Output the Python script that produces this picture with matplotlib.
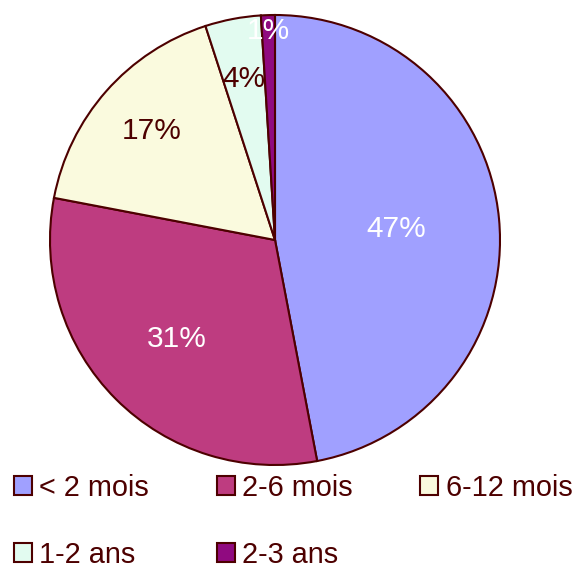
import matplotlib

matplotlib.use("Agg")
import matplotlib.pyplot as plt
import numpy as np

# Age distribution (share of cases)
CATEGORIES = ["< 2 mois", "2-6 mois", "6-12 mois", "1-2 ans", "2-3 ans"]
SHARES = [47, 31, 17, 4, 1]

COLORS = ["#A0A0FF", "#BE3C80", "#FAFADE", "#E2FBF0", "#900A80"]
LABEL_COLORS = ["white", "white", "#4D0000", "#4D0000", "white"]
LABEL_DIST = [0.54, 0.62, 0.73, 0.73, 0.93]
EDGE = "#4D0000"

plt.rcParams["font.family"] = ["Liberation Sans", "DejaVu Sans"]

fig = plt.figure(figsize=(5.76, 5.67), dpi=100)
ax = fig.add_axes([50 / 576, 1 - 465 / 567, 450 / 576, 450 / 567])

wedges, _ = ax.pie(
    SHARES, colors=COLORS, startangle=90, counterclock=False,
    wedgeprops=dict(edgecolor=EDGE, linewidth=1.5),
)
for w in wedges:
    w.set_clip_on(False)

for w, v, c, d in zip(wedges, SHARES, LABEL_COLORS, LABEL_DIST):
    mid = np.deg2rad((w.theta1 + w.theta2) / 2)
    ax.text(d * np.cos(mid), d * np.sin(mid), f"{v}%", color=c,
            ha="center", va="center", fontsize=21.5)

ax.set_xlim(-1, 1)
ax.set_ylim(-1, 1)
ax.set_aspect("equal")
ax.axis("off")

# legend is filled column by column; reorder so it reads row by row
order = [0, 3, 1, 4, 2]
leg = fig.legend(
    [wedges[i] for i in order], [CATEGORIES[i] for i in order],
    loc="upper left", bbox_to_anchor=(14 / 576, 1 - 474 / 567),
    ncol=3, frameon=False, fontsize=20.8, borderpad=0, borderaxespad=0,
    handlelength=0.62, handleheight=0.62, handletextpad=0.25,
    columnspacing=2.35, labelspacing=1.35,
)
for t in leg.get_texts():
    t.set_color(EDGE)
for h in leg.legend_handles:
    h.set_linewidth(1.5)

fig.savefig("out.png", dpi=100)
